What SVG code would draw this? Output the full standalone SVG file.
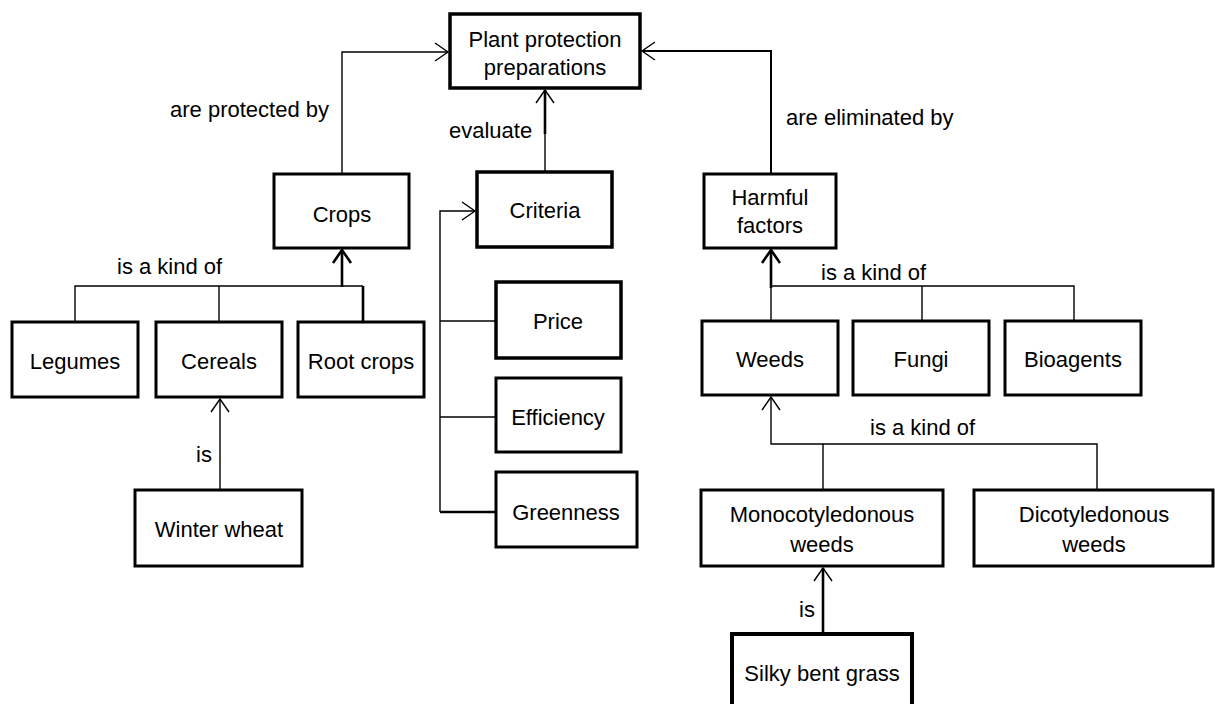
<svg xmlns="http://www.w3.org/2000/svg" width="1215" height="704" viewBox="0 0 1215 704">
<style>
  .box { fill: #ffffff; stroke: #000000; stroke-width: 3; }
  .thickbox { fill: #ffffff; stroke: #000000; stroke-width: 4; }
  .t { font-family: "Liberation Sans", Arial, sans-serif; font-size: 22px; fill: #000000; }
  .c { text-anchor: middle; }
  .thin { fill: none; stroke: #000000; stroke-width: 1.4; }
  .thick { fill: none; stroke: #000000; stroke-width: 2.6; }
  .mid { fill: none; stroke: #000000; stroke-width: 2; }
</style>
<defs>
  <marker id="arrThin" markerUnits="userSpaceOnUse" markerWidth="30" markerHeight="30" viewBox="-20 -15 30 30" refX="0" refY="0" orient="auto">
    <path d="M -13 -9 L 0 0 L -13 9" fill="none" stroke="#000000" stroke-width="1.4"/>
  </marker>
  <marker id="arrThick" markerUnits="userSpaceOnUse" markerWidth="30" markerHeight="30" viewBox="-20 -15 30 30" refX="0" refY="0" orient="auto">
    <path d="M -13 -9 L 0 0 L -13 9" fill="none" stroke="#000000" stroke-width="2.6"/>
  </marker>
</defs>
<rect width="1215" height="704" fill="#ffffff"/>

<g id="connectors">
  <!-- Crops -> Plant protection preparations -->
  <path class="thin" d="M342,174 V52 H448" marker-end="url(#arrThin)"/>
  <!-- Criteria -> Plant protection preparations -->
  <path class="thin" d="M545,172 V132"/>
  <path class="thick" d="M545,134 V90" marker-end="url(#arrThin)"/>
  <!-- Harmful factors -> Plant protection preparations -->
  <path class="mid" d="M771,174 V51 H642" marker-end="url(#arrThin)"/>
  <!-- Crops is a kind of -->
  <path class="thin" d="M75,322 V286 H363"/>
  <path class="thin" d="M219,322 V286"/>
  <path class="thick" d="M363,322 V286"/>
  <path class="thick" d="M342,287 V250" marker-end="url(#arrThick)"/>
  <!-- Winter wheat is Cereals -->
  <path class="thin" d="M220,490 V399" marker-end="url(#arrThin)"/>
  <!-- Criteria bus -->
  <path class="thin" d="M440,512 V211 H475" marker-end="url(#arrThin)"/>
  <path class="thin" d="M440,321 H496"/>
  <path class="thin" d="M440,417 H496"/>
  <path class="thick" d="M440,512 H496"/>
  <!-- Harmful factors is a kind of -->
  <path class="thin" d="M771,321 V286 H1074 V320"/>
  <path class="thin" d="M922,286 V320"/>
  <path class="thick" d="M771,288 V250" marker-end="url(#arrThick)"/>
  <!-- Weeds is a kind of -->
  <path class="thin" d="M823,490 V444 H771 V397" marker-end="url(#arrThin)"/>
  <path class="thin" d="M823,444 H1097 V490"/>
  <!-- Silky bent grass is Monocotyledonous weeds -->
  <path class="thick" d="M823,634 V568" marker-end="url(#arrThin)"/>

  <text class="t" x="170" y="117">are protected by</text>
  <text class="t" x="449" y="138">evaluate</text>
  <text class="t" x="786" y="125">are eliminated by</text>
  <text class="t" x="117" y="274">is a kind of</text>
  <text class="t" x="196" y="462">is</text>
  <text class="t" x="821" y="280">is a kind of</text>
  <text class="t" x="870" y="435">is a kind of</text>
  <text class="t" x="799" y="617">is</text>
</g>

<g id="node-plant">
  <rect class="box" x="450" y="14" width="190" height="74" style="stroke-width:3.5"/>
  <text class="t c" x="545" y="47">Plant protection</text>
  <text class="t c" x="545" y="75">preparations</text>
</g>
<g id="node-crops">
  <rect class="box" x="274" y="174" width="135" height="74"/>
  <text class="t c" x="342" y="222">Crops</text>
</g>
<g id="node-criteria">
  <rect class="box" x="477" y="172" width="135" height="75" style="stroke-width:3.5"/>
  <text class="t c" x="545" y="218">Criteria</text>
</g>
<g id="node-harmful">
  <rect class="box" x="704" y="174" width="132" height="74"/>
  <text class="t c" x="770" y="205">Harmful</text>
  <text class="t c" x="770" y="233">factors</text>
</g>
<g id="node-legumes">
  <rect class="box" x="12" y="322" width="126" height="75"/>
  <text class="t c" x="75" y="369">Legumes</text>
</g>
<g id="node-cereals">
  <rect class="box" x="156" y="322" width="126" height="75"/>
  <text class="t c" x="219" y="369">Cereals</text>
</g>
<g id="node-rootcrops">
  <rect class="box" x="298" y="322" width="126" height="75"/>
  <text class="t c" x="361" y="369">Root crops</text>
</g>
<g id="node-winterwheat">
  <rect class="box" x="135" y="490" width="167" height="76"/>
  <text class="t c" x="219" y="537">Winter wheat</text>
</g>
<g id="node-price">
  <rect class="box" x="496" y="282" width="125" height="76" style="stroke-width:3.5"/>
  <text class="t c" x="558" y="329">Price</text>
</g>
<g id="node-efficiency">
  <rect class="box" x="496" y="378" width="125" height="74"/>
  <text class="t c" x="558" y="425">Efficiency</text>
</g>
<g id="node-greenness">
  <rect class="box" x="496" y="472" width="141" height="75"/>
  <text class="t c" x="566" y="520">Greenness</text>
</g>
<g id="node-weeds">
  <rect class="box" x="702" y="321" width="136" height="74"/>
  <text class="t c" x="770" y="367">Weeds</text>
</g>
<g id="node-fungi">
  <rect class="box" x="853" y="321" width="136" height="74"/>
  <text class="t c" x="921" y="367">Fungi</text>
</g>
<g id="node-bioagents">
  <rect class="box" x="1005" y="321" width="136" height="74"/>
  <text class="t c" x="1073" y="367">Bioagents</text>
</g>
<g id="node-mono">
  <rect class="box" x="701" y="490" width="242" height="76"/>
  <text class="t c" x="822" y="522">Monocotyledonous</text>
  <text class="t c" x="822" y="552">weeds</text>
</g>
<g id="node-dicot">
  <rect class="box" x="974" y="490" width="239" height="76"/>
  <text class="t c" x="1094" y="522">Dicotyledonous</text>
  <text class="t c" x="1094" y="552">weeds</text>
</g>
<g id="node-silky">
  <rect class="thickbox" x="732" y="634" width="180" height="80"/>
  <text class="t c" x="822" y="681">Silky bent grass</text>
</g>
</svg>
